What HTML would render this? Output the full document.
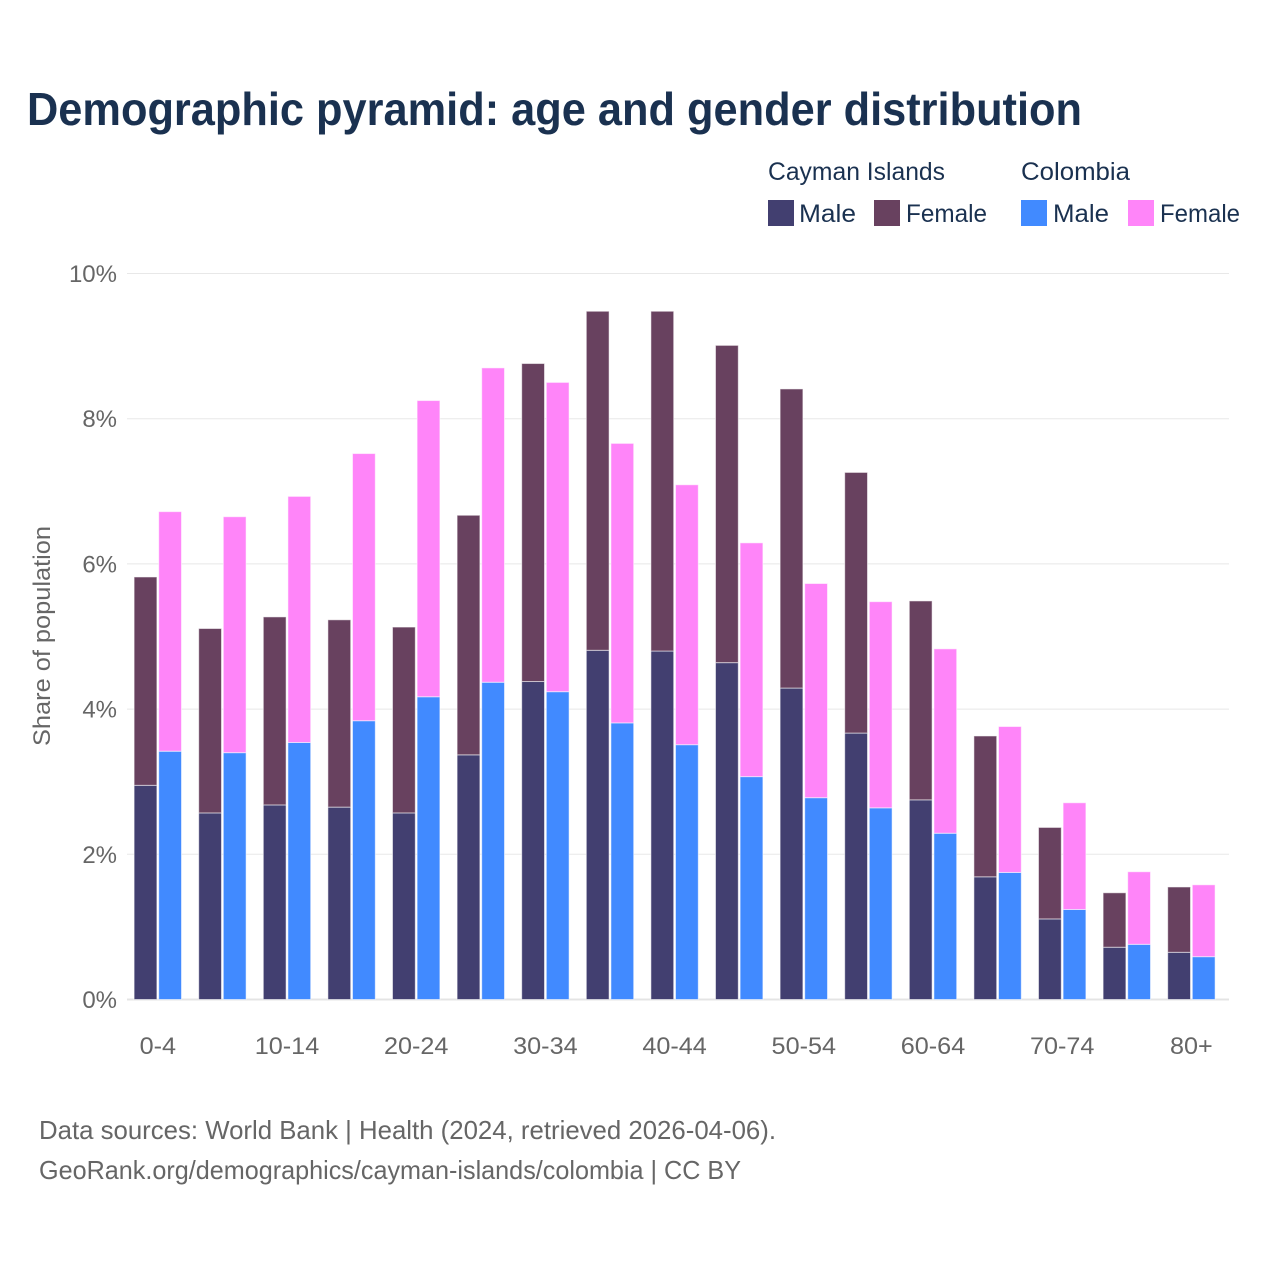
<!DOCTYPE html>
<html lang="en">
<head>
<meta charset="utf-8">
<title>Demographic pyramid: age and gender distribution</title>
<style>
html,body{margin:0;padding:0;background:#fff;width:1280px;height:1280px;overflow:hidden}
svg{display:block}
text{font-family:"Liberation Sans",sans-serif}
</style>
</head>
<body>
<svg id="chart" xmlns="http://www.w3.org/2000/svg" width="1280" height="1280" viewBox="0 0 1280 1280">
  <rect width="1280" height="1280" fill="#ffffff"/>
  <text x="27" y="125" font-size="46" font-weight="700" fill="#1a3150" textLength="1055" lengthAdjust="spacingAndGlyphs">Demographic pyramid: age and gender distribution</text>

  <g font-size="25" fill="#1a3150">
    <text x="768" y="180" textLength="177" lengthAdjust="spacingAndGlyphs">Cayman Islands</text>
    <text x="1021" y="180" textLength="109" lengthAdjust="spacingAndGlyphs">Colombia</text>
    <rect x="768" y="200" width="26" height="26" fill="#423f70"/>
    <text x="799" y="222" textLength="57" lengthAdjust="spacingAndGlyphs">Male</text>
    <rect x="874" y="200" width="26" height="26" fill="#68415f"/>
    <text x="906" y="222" textLength="81" lengthAdjust="spacingAndGlyphs">Female</text>
    <rect x="1021" y="200" width="26" height="26" fill="#418aff"/>
    <text x="1053" y="222" textLength="56" lengthAdjust="spacingAndGlyphs">Male</text>
    <rect x="1128" y="200" width="26" height="26" fill="#ff85f9"/>
    <text x="1160" y="222" textLength="80" lengthAdjust="spacingAndGlyphs">Female</text>
  </g>

  <g id="grid"></g>
  <g id="bars"></g>
  <g id="yticks"></g>
  <g id="xticks"></g>

  <text transform="translate(50 636) rotate(-90)" text-anchor="middle" font-size="24" fill="#666666" textLength="220" lengthAdjust="spacingAndGlyphs">Share of population</text>

  <text x="39" y="1139" font-size="26" fill="#666666" textLength="737" lengthAdjust="spacingAndGlyphs">Data sources: World Bank | Health (2024, retrieved 2026-04-06).</text>
  <text x="39" y="1179" font-size="26" fill="#666666" textLength="702" lengthAdjust="spacingAndGlyphs">GeoRank.org/demographics/cayman-islands/colombia | CC BY</text>
</svg>
<script>
const ageGroups = ["0-4","5-9","10-14","15-19","20-24","25-29","30-34","35-39","40-44","45-49","50-54","55-59","60-64","65-69","70-74","75-79","80+"];
const caymanMale = [2.95,2.57,2.68,2.65,2.57,3.37,4.38,4.81,4.80,4.64,4.29,3.67,2.75,1.69,1.11,0.72,0.65];
const caymanFemale = [2.87,2.54,2.59,2.58,2.56,3.30,4.38,4.67,4.68,4.37,4.12,3.59,2.74,1.94,1.26,0.75,0.90];
const colombiaMale = [3.42,3.40,3.54,3.84,4.17,4.37,4.24,3.81,3.51,3.07,2.78,2.64,2.29,1.75,1.24,0.76,0.59];
const colombiaFemale = [3.30,3.25,3.39,3.68,4.08,4.33,4.26,3.85,3.58,3.22,2.95,2.84,2.54,2.01,1.47,1.00,0.99];
const yTicks = [0,2,4,6,8,10];
const xTickLabels = ["0-4","10-14","20-24","30-34","40-44","50-54","60-64","70-74","80+"];

const NS = "http://www.w3.org/2000/svg";
const plotLeft = 127, plotRight = 1229, yZero = 999.5, pxPerUnit = 72.6;
const firstGroupCenter = 157.8, groupStep = 64.6, barWidth = 22.8, barGap = 24.6;
const yScale = v => yZero - v * pxPerUnit;
const xCenter = i => firstGroupCenter + i * groupStep;

const gridGroup = document.getElementById("grid");
const barsGroup = document.getElementById("bars");
const yTickGroup = document.getElementById("yticks");
const xTickGroup = document.getElementById("xticks");

yTicks.forEach(t => {
  const line = document.createElementNS(NS, "line");
  
  
  line.setAttribute("x1", plotLeft);
  line.setAttribute("x2", plotRight);
  line.setAttribute("y1", yScale(t));
  line.setAttribute("y2", yScale(t));
  line.setAttribute("stroke", t === 0 ? "#e4e4e4" : "#e8e8e8");
  line.setAttribute("stroke-width", t === 0 ? 2 : 1);
  gridGroup.appendChild(line);

  const label = document.createElementNS(NS, "text");
  
  
  label.setAttribute("x", 117);
  label.setAttribute("y", yScale(t) + 8.5);
  label.setAttribute("text-anchor", "end");
  label.setAttribute("font-size", 24);
  label.setAttribute("fill", "#666666");
  label.textContent = t + "%";
  yTickGroup.appendChild(label);
});

function addBar(cx, base, value, color) {
  const rect = document.createElementNS(NS, "rect");
  
  
  rect.setAttribute("x", cx - barWidth / 2);
  rect.setAttribute("y", yScale(base + value));
  rect.setAttribute("width", barWidth);
  rect.setAttribute("height", value * pxPerUnit);
  rect.setAttribute("fill", color);
  rect.setAttribute("stroke", "#ffffff");
  rect.setAttribute("stroke-opacity", "0.55");
  rect.setAttribute("stroke-width", 1);
  barsGroup.appendChild(rect);
}

ageGroups.forEach((g, i) => {
  const cayX = xCenter(i) - barGap / 2;
  const colX = xCenter(i) + barGap / 2;
  addBar(cayX, 0, caymanMale[i], "#423f70");
  addBar(cayX, caymanMale[i], caymanFemale[i], "#68415f");
  addBar(colX, 0, colombiaMale[i], "#418aff");
  addBar(colX, colombiaMale[i], colombiaFemale[i], "#ff85f9");
  if (xTickLabels.includes(g)) {
    const label = document.createElementNS(NS, "text");
    
    
    label.setAttribute("x", xCenter(i));
    label.setAttribute("y", 1054);
    label.setAttribute("text-anchor", "middle");
    label.setAttribute("font-size", 24);
    label.setAttribute("fill", "#666666");
    label.textContent = g;
    xTickGroup.appendChild(label);
    const measured = label.getComputedTextLength();
    label.setAttribute("textLength", measured * 1.05);
    label.setAttribute("lengthAdjust", "spacingAndGlyphs");
  }
});
</script>
</body>
</html>
